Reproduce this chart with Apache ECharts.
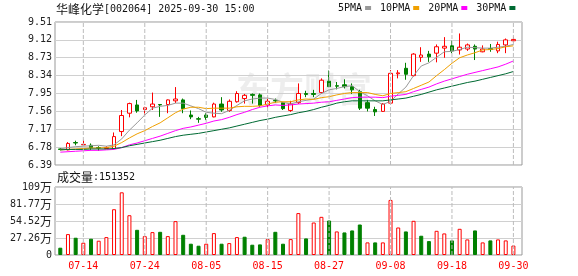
<!DOCTYPE html>
<html><head><meta charset="utf-8">
<script src="https://cdn.jsdelivr.net/npm/echarts@6/dist/echarts.min.js"></script>
<style>html,body{margin:0;padding:0;background:#fff}#c{width:578px;height:276px}</style>
</head><body><div id="c"></div>
<script>
// ---- data ----
const stockName = '华峰化学';
const stockInfo = '[002064] 2025-09-30 15:00';
const dates = ['07-09','07-10','07-11','07-14','07-15','07-16','07-17','07-18','07-21','07-22',
 '07-23','07-24','07-25','07-28','07-29','07-30','07-31','08-01','08-04','08-05',
 '08-06','08-07','08-08','08-11','08-12','08-13','08-14','08-15','08-18','08-19',
 '08-20','08-21','08-22','08-25','08-26','08-27','08-28','08-29','09-01','09-02',
 '09-03','09-04','09-05','09-08','09-09','09-10','09-11','09-12','09-15','09-16',
 '09-17','09-18','09-19','09-22','09-23','09-24','09-25','09-26','09-29','09-30'];
const xTickLabels = ['07-14','07-24','08-05','08-15','08-27','09-08','09-18','09-30'];
const openP  = [6.74,6.72,6.88,6.83,6.82,6.77,6.75,6.75,7.12,7.52,7.70,7.60,7.66,7.71,7.71,7.79,7.81,7.48,7.40,7.48,
 7.44,7.72,7.58,7.77,7.84,7.93,7.92,7.70,7.80,7.75,7.58,7.75,7.95,7.95,7.97,8.22,8.12,8.14,8.10,7.99,
 7.75,7.60,7.56,7.74,8.38,8.50,8.34,8.74,8.81,8.83,8.94,8.99,8.90,8.92,8.98,8.86,8.93,8.88,9.01,9.10];
const closeP = [6.73,6.86,6.87,6.84,6.77,6.76,6.77,7.01,7.47,7.73,7.57,7.64,7.72,7.70,7.81,7.83,7.62,7.44,7.39,7.43,
 7.72,7.59,7.78,7.95,7.91,7.91,7.69,7.78,7.79,7.62,7.72,7.95,7.93,7.93,8.24,8.10,8.11,8.10,8.03,7.63,
 7.63,7.55,7.72,8.39,8.40,8.37,8.81,8.79,8.75,8.97,8.98,8.88,8.96,9.01,8.92,8.92,8.91,9.02,9.12,9.13];
const lowP   = [6.71,6.71,6.82,6.82,6.72,6.70,6.74,6.73,7.02,7.43,7.53,7.48,7.59,7.44,7.52,7.74,7.52,7.39,7.31,7.37,
 7.43,7.55,7.55,7.75,7.73,7.73,7.66,7.63,7.75,7.59,7.55,7.72,7.87,7.87,7.95,8.09,8.04,8.06,7.94,7.59,
 7.56,7.46,7.55,7.72,8.28,8.25,8.32,8.64,8.64,8.63,8.73,8.83,8.80,8.88,8.68,8.85,8.86,8.83,8.83,9.06];
const highP  = [6.76,6.89,6.92,6.94,6.86,6.80,6.80,7.10,7.59,7.75,7.81,7.66,7.97,7.72,7.82,8.09,7.84,7.58,7.44,7.52,
 7.75,7.87,7.82,8.00,7.94,7.95,7.95,7.87,7.84,7.76,7.79,8.17,8.01,8.03,8.28,8.45,8.20,8.26,8.17,8.03,
 7.81,7.66,7.74,8.46,8.46,8.62,8.83,8.96,8.88,9.02,9.18,9.10,9.26,9.04,9.02,9.00,9.03,9.08,9.15,9.19];
const ma5  = [6.74,6.77,6.79,6.80,6.81,6.82,6.80,6.83,6.96,7.15,7.31,7.48,7.63,7.67,7.69,7.74,7.74,7.68,7.62,7.54,
 7.52,7.51,7.58,7.69,7.79,7.83,7.85,7.85,7.82,7.76,7.72,7.77,7.80,7.83,7.95,8.03,8.06,8.10,8.12,7.99,
 7.90,7.79,7.71,7.78,7.94,8.09,8.34,8.55,8.62,8.74,8.86,8.87,8.91,8.96,8.95,8.94,8.94,8.96,8.98,9.02];
const ma10 = [6.72,6.73,6.74,6.75,6.76,6.76,6.77,6.80,6.88,6.98,7.07,7.14,7.23,7.31,7.42,7.53,7.61,7.65,7.65,7.62,
 7.63,7.63,7.63,7.66,7.67,7.67,7.68,7.72,7.76,7.77,7.77,7.81,7.83,7.82,7.86,7.88,7.92,7.95,7.97,7.97,
 7.97,7.93,7.90,7.95,7.97,7.99,8.06,8.13,8.20,8.34,8.47,8.61,8.73,8.79,8.84,8.90,8.91,8.93,8.97,8.99];
const ma20 = [6.67,6.68,6.69,6.70,6.71,6.71,6.72,6.73,6.77,6.83,6.87,6.92,6.97,7.02,7.08,7.14,7.19,7.22,7.26,7.30,
 7.35,7.38,7.43,7.49,7.54,7.60,7.65,7.68,7.70,7.69,7.70,7.72,7.73,7.74,7.76,7.77,7.80,7.83,7.86,7.87,
 7.87,7.87,7.86,7.89,7.91,7.93,7.99,8.04,8.09,8.16,8.22,8.27,8.32,8.37,8.41,8.45,8.49,8.53,8.59,8.66];
const ma30 = [6.72,6.73,6.73,6.73,6.74,6.74,6.74,6.75,6.77,6.81,6.84,6.87,6.90,6.93,6.97,7.01,7.04,7.06,7.08,7.11,
 7.14,7.17,7.20,7.24,7.28,7.32,7.36,7.39,7.43,7.46,7.49,7.53,7.56,7.60,7.65,7.69,7.74,7.77,7.79,7.79,
 7.79,7.79,7.79,7.81,7.83,7.85,7.89,7.93,7.98,8.03,8.07,8.11,8.15,8.19,8.22,8.26,8.30,8.34,8.38,8.43];
const volume = [117000,335000,277000,197000,261000,229000,287000,734000,1005000,638000,
 404000,303000,367000,372000,303000,543000,324000,181000,149000,181000,
 351000,181000,191000,287000,293000,165000,170000,255000,372000,181000,
 255000,672000,266000,521000,612000,553000,378000,362000,394000,489000,
 202000,202000,202000,883000,441000,378000,548000,309000,223000,388000,
 346000,234000,420000,250000,394000,202000,234000,250000,234000,151352];
const volUp = [0,1,0,1,0,1,1,1,1,1, 0,1,1,0,1,1,0,0,0,1, 1,0,1,1,0,0,0,1,0,0,
 1,1,0,1,1,0,1,0,0,0, 1,0,1,1,1,0,1,0,0,1, 1,0,1,1,0,1,0,1,1,1];
const priceTicks = [6.39,6.78,7.17,7.56,7.95,8.34,8.73,9.12,9.51];
const volTicks = [0,272575,545150,817725,1090300];
const volTickLabels = ['0','27.26','54.52','81.77','109'];
const maNames = ['5PMA','10PMA','20PMA','30PMA'];

// ---- chart ----
const MONO = 'DejaVu Sans Mono';
const CJK = 'Noto Sans CJK SC';
const RED = '#ff0000', GREEN = '#008000';
const xTickIdx = xTickLabels.map(d => dates.indexOf(d));
const xMin = -0.69, xMax = 60.12;
const chart = echarts.init(document.getElementById('c'), null, {renderer: 'canvas'});

function xAxisCfg(gi, showLabel) {
  return {
    type: 'value', gridIndex: gi, min: xMin, max: xMax,
    axisLine: {show: false},
    axisTick: {show: false},
    axisLabel: {show: showLabel, customValues: xTickIdx, formatter: v => dates[Math.round(v)],
      color: RED, fontFamily: MONO, fontSize: 10, margin: 6},
    splitLine: {show: false}
  };
}
// vertical dashed date lines: one two-point line series per tick date
function vLineSeries(gi, lo, hi) {
  return xTickIdx.map(i => ({
    type: 'line', name: 'v' + gi + '_' + i, xAxisIndex: gi, yAxisIndex: gi, z: 5, silent: true,
    symbol: 'none', animation: false,
    lineStyle: {color: '#bcbcbc', width: 1, type: 'dashed'},
    data: [[i, lo], [i, hi]]
  }));
}

const maColors = ['#999999', '#f0a000', '#ff00ff', '#006a33'];
const maData = [ma5, ma10, ma20, ma30];
const richTxt = {c: {fontFamily: CJK, fontSize: 12, color: '#111', fontWeight: 'normal'},
                 m: {fontFamily: MONO, fontSize: 10, color: '#111', fontWeight: 'normal'}};

const option = {
  animation: false,
  backgroundColor: '#fff',
  title: [
    {left: 56, top: 3, padding: 0, text: '{c|' + stockName + '}{m|' + stockInfo + '}',
     textStyle: {fontWeight: 'normal', rich: richTxt}},
    {left: 57, top: 171, padding: 0, text: '{c|成交量}{m|:' + volume[volume.length - 1] + '}',
     textStyle: {fontWeight: 'normal', rich: richTxt}}
  ],
  legend: {
    left: 338, top: 3, padding: 0, itemGap: 9, itemWidth: 6, itemHeight: 4, icon: 'rect', align: 'right',
    selectedMode: false, data: maNames,
    textStyle: {fontFamily: MONO, fontSize: 10, color: '#111', padding: [0, -2, 0, 0]}
  },
  graphic: [
    {type: 'text', left: 236, top: 72, z: -10, silent: true,
     style: {text: '东方财富', fontFamily: CJK, fontSize: 34, fontWeight: 'bold', fill: 'rgba(0,0,0,0.07)'}}
  ],
  grid: [
    {left: 55, top: 22, width: 467, height: 143, show: true, borderColor: '#999', borderWidth: 1},
    {left: 55, top: 187, width: 467, height: 68, show: true, borderColor: '#999', borderWidth: 1}
  ],
  xAxis: [xAxisCfg(0, false), xAxisCfg(1, true)],
  yAxis: [
    {type: 'value', gridIndex: 0, min: priceTicks[0], max: priceTicks[priceTicks.length - 1], scale: true,
     axisLine: {show: false}, axisTick: {show: false, customValues: priceTicks},
     axisLabel: {customValues: priceTicks, formatter: v => v.toFixed(2), color: '#222', fontFamily: MONO, fontSize: 10, margin: 3},
     splitLine: {show: true, lineStyle: {color: '#d0d0d0', width: 1}}},
    {type: 'value', gridIndex: 1, min: volTicks[0], max: volTicks[volTicks.length - 1],
     axisLine: {show: false}, axisTick: {show: false, customValues: volTicks},
     axisLabel: {customValues: volTicks, margin: 3,
       formatter: v => { const k = volTicks.indexOf(v); const s = volTickLabels[k]; return k === 0 ? '{m|' + s + '}' : '{m|' + s + '}{c|万}'; },
       rich: {m: {fontFamily: MONO, fontSize: 10, color: '#222'}, c: {fontFamily: CJK, fontSize: 12, color: '#222'}}},
     splitLine: {show: true, lineStyle: {color: '#d0d0d0', width: 1}}}
  ],
  series: [
    {type: 'candlestick', name: 'K', xAxisIndex: 0, yAxisIndex: 0, barWidth: 4, z: 3,
     encode: {x: 0, y: [1, 2, 3, 4]},
     data: dates.map((d, i) => [i, openP[i], closeP[i], lowP[i], highP[i]]),
     itemStyle: {color: '#ffffff', color0: GREEN, borderColor: RED, borderColor0: GREEN, borderWidth: 1}},
    ...maNames.map((n, k) => ({
      type: 'line', name: n, xAxisIndex: 0, yAxisIndex: 0, symbol: 'none', color: maColors[k],
      lineStyle: {width: 1, color: maColors[k]}, z: 4,
      data: maData[k].map((v, i) => [i, v])
    })),
    {type: 'bar', name: 'VOL', xAxisIndex: 1, yAxisIndex: 1, barWidth: 4, z: 3,
     data: volume.map((v, i) => ({value: [i, v], itemStyle: volUp[i]
       ? {color: '#ffffff', borderColor: RED, borderWidth: 1}
       : {color: GREEN, borderColor: GREEN, borderWidth: 1}}))},
    ...vLineSeries(0, priceTicks[0], priceTicks[priceTicks.length - 1]),
    ...vLineSeries(1, volTicks[0], volTicks[volTicks.length - 1])
  ]
};
chart.setOption(option);
</script>
</body></html>
